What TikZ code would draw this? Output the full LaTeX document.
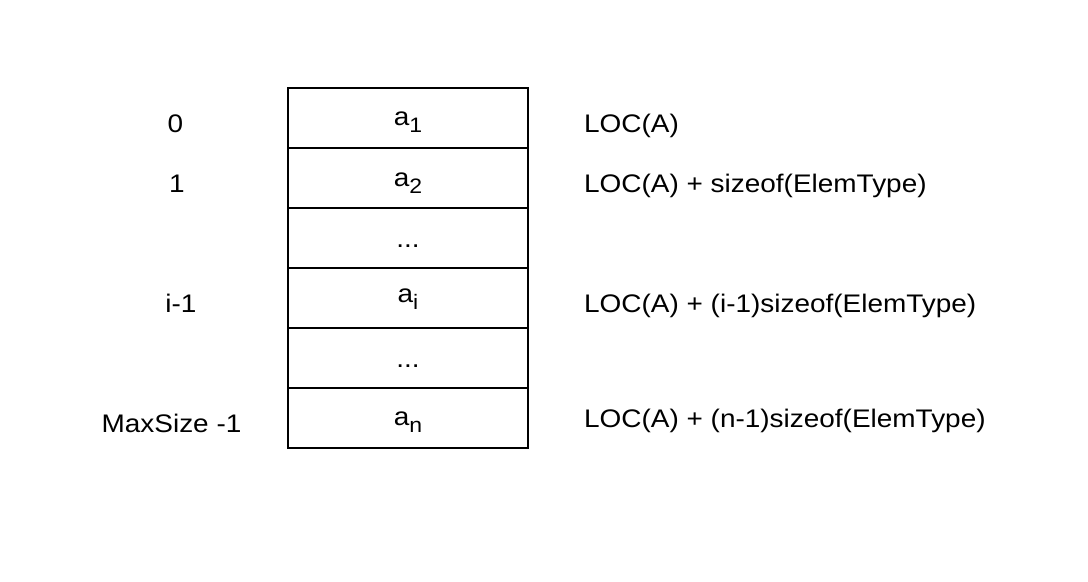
\documentclass[tikz,border=0pt]{standalone}
\usepackage{fontspec}
\setmainfont{Liberation Sans}[FakeStretch=1.1]
\newcommand{\subtxt}[1]{\raisebox{-7bp}{\fontsize{21}{24}\selectfont #1}}
\begin{document}
\begin{tikzpicture}[x=1bp,y=-1bp,
  cell/.style={draw=black,line width=1.9bp,minimum width=240bp,minimum height=60bp,inner sep=0pt,anchor=north west},
  lab/.style={font=\fontsize{25.5}{30}\selectfont,inner sep=0pt,anchor=base},
  rlab/.style={lab,anchor=base west}]
\useasboundingbox (0,0) rectangle (1088,582);
\node[cell] (c1) at (287,87) {};
\node[cell] (c2) at (287,147) {};
\node[cell] (c3) at (287,207) {};
\node[cell] (c4) at (287,267) {};
\node[cell] (c5) at (287,327) {};
\node[cell] (c6) at (287,387) {};
\node[lab] (t1) at ([yshift=-39bp]c1.north) {a\subtxt{1}};
\node[lab] (t2) at ([yshift=-40bp]c2.north) {a\subtxt{2}};
\node[lab] (t3) at ([yshift=-40bp]c3.north) {...};
\node[lab] (t4) at ([yshift=-35bp]c4.north) {a\subtxt{i}};
\node[lab] (t5) at ([yshift=-40bp]c5.north) {...};
\node[lab] (t6) at ([yshift=-38bp]c6.north) {a\subtxt{n}};
\node[lab] (l1) at (175.5,133) {0};
\node[lab] (l2) at (177,193) {1};
\node[lab] (l4) at (181,313) {i-1};
\node[lab] (l6) at (171.5,432) {MaxSize -1};
\node[rlab] (r1) at (584,133) {LOC(A)};
\node[rlab] (r2) at (584,193) {LOC(A) + sizeof(ElemType)};
\node[rlab] (r4) at (584,313) {LOC(A) + (i-1)sizeof(ElemType)};
\node[rlab] (r6) at (584,427) {LOC(A) + (n-1)sizeof(ElemType)};
\end{tikzpicture}
\end{document}
